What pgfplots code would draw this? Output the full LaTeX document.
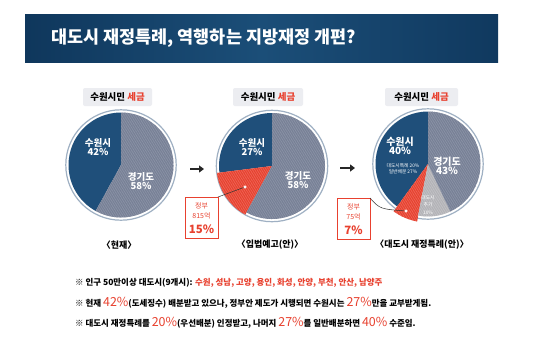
\documentclass[border=0pt]{standalone}
\usepackage{fontspec}
\setmainfont{Noto Sans CJK KR}
\usepackage{pgfplots}
\pgfplotsset{compat=1.18}
\usepackage{pgfplotstable}
\usetikzlibrary{patterns.meta,arrows.meta}

\definecolor{navy}{HTML}{1F4F7A}
\definecolor{ggbase}{HTML}{767F95}
\definecolor{ggstripe}{HTML}{9098AB}
\definecolor{redbase}{HTML}{E63F2E}
\definecolor{redstripe}{HTML}{F0705F}
\definecolor{lgbase}{HTML}{B2B2B6}
\definecolor{lgstripe}{HTML}{C6C6CA}
\definecolor{ringc}{HTML}{9FB0C3}
\definecolor{boxgray}{HTML}{ECEDF1}
\definecolor{noteRed}{HTML}{E8412F}
\definecolor{barL}{HTML}{0F375C}
\definecolor{barM}{HTML}{1B4E78}
\definecolor{barR}{HTML}{10395F}

\tikzset{
 suwon/.style={fill=navy},
 gyeonggi/.style={preaction={fill=ggbase}, pattern={Lines[angle=65,distance=1.6pt,line width=0.45pt]}, pattern color=ggstripe},
 gov/.style={preaction={fill=redbase}, pattern={Lines[angle=65,distance=1.6pt,line width=0.45pt]}, pattern color=redstripe},
 extra/.style={preaction={fill=lgbase}, pattern={Lines[angle=65,distance=1.6pt,line width=0.45pt]}, pattern color=lgstripe},
}

% pie shares (percent), slice style, radial offset (bp)
\pgfplotstableread{
share style dr
42 suwon 0
58 gyeonggi 0
}\pieA
\pgfplotstableread{
share style dr
27 suwon 0
15 gov 2.5
58 gyeonggi 0
}\pieB
\pgfplotstableread{
share style dr
40 suwon 0
7 gov 6
10 extra 0
43 gyeonggi 0
}\pieC

\newcommand\drawpie[4]{%
  \pgfplotstablegetrowsof{#1}\pgfmathtruncatemacro\nrows{\pgfplotsretval-1}%
  \def\startang{90}%
  \pgfplotsforeachungrouped \k in {0,...,\nrows}{%
    \pgfplotstablegetelem{\k}{share}\of{#1}\let\share\pgfplotsretval
    \pgfplotstablegetelem{\k}{style}\of{#1}\edef\sty{\pgfplotsretval}%
    \pgfplotstablegetelem{\k}{dr}\of{#1}\let\dr\pgfplotsretval
    \pgfmathsetmacro\endang{\startang+3.6*\share}%
    \pgfmathsetmacro\rr{#4+\dr}%
    \edef\temp{\noexpand\path[\sty] (axis cs:#2,#3) -- ++(\startang:\rr bp) arc[start angle=\startang, end angle=\endang, radius=\rr bp] -- cycle;}%
    \temp
    \let\startang\endang
  }%
}

\newcommand\ringat[3]{%
  \draw[ringc, line width=1.2bp] (axis cs:#1,#2) circle (#3bp);
}

\begin{document}
\begin{tikzpicture}
\begin{axis}[scale only axis, width=550bp, height=353bp,
  xmin=0, xmax=550, ymin=0, ymax=353, y dir=reverse,
  hide axis, clip=false]
\fill[white] (axis cs:0,0) rectangle (axis cs:550,353);
% title bar
\shade[left color=barL, right color=barR, middle color=barM] (axis cs:25,15) rectangle (axis cs:498,62);
\node[anchor=west, text=white, font=\bfseries\fontsize{17.5}{18}\selectfont] at (axis cs:48,38) {대도시 재정특례, 역행하는 지방재정 개편?};

% subtitle boxes
\fill[boxgray, rounded corners=2bp] (axis cs:83,88) rectangle (axis cs:152,106);
\fill[boxgray, rounded corners=2bp] (axis cs:233,88) rectangle (axis cs:303,106);
\fill[boxgray, rounded corners=2bp] (axis cs:385,88) rectangle (axis cs:458,106);
\node[font=\bfseries\fontsize{9.5}{10}\selectfont] at (axis cs:117.5,97) {수원시민 \textcolor{noteRed}{세금}};
\node[font=\bfseries\fontsize{9.5}{10}\selectfont] at (axis cs:268,97) {수원시민 \textcolor{noteRed}{세금}};
\node[font=\bfseries\fontsize{9.5}{10}\selectfont] at (axis cs:421.5,97) {수원시민 \textcolor{noteRed}{세금}};

% rings and pies
\ringat{121}{165}{55.2}
\ringat{272}{166}{55.7}
\ringat{428}{164}{55.2}
\drawpie{\pieA}{121}{165}{52.5}
\drawpie{\pieB}{272}{166}{53}
\drawpie{\pieC}{428}{164}{52.5}

% pie labels
\node[text=white, font=\bfseries\fontsize{9.5}{10}\selectfont, align=center] at (axis cs:98,147) {수원시\\[-1bp]42\%};
\node[text=white, font=\bfseries\fontsize{9.5}{10}\selectfont, align=center] at (axis cs:141,181) {경기도\\[-1bp]58\%};
\node[text=white, font=\bfseries\fontsize{9.5}{10}\selectfont, align=center] at (axis cs:252,147) {수원시\\[-1bp]27\%};
\node[text=white, font=\bfseries\fontsize{9.5}{10}\selectfont, align=center] at (axis cs:298,180) {경기도\\[-1bp]58\%};
\node[text=white, font=\bfseries\fontsize{10}{10.5}\selectfont, align=center] at (axis cs:400,146) {수원시\\[-1bp]40\%};
\node[text=white, font=\fontsize{4.8}{6.5}\selectfont, align=center] at (axis cs:403,168.5) {대도시특례 20\%\\일반배분 27\%};
\node[text=white, font=\bfseries\fontsize{10}{10.5}\selectfont, align=center] at (axis cs:447,166) {경기도\\[-1bp]43\%};
\node[text=white, font=\fontsize{4.8}{7.5}\selectfont, align=center] at (axis cs:428,205) {대도시\\추가\\10\%};

% arrows
\draw[-{Triangle[length=5bp,width=7bp]}, line width=2.2bp, black!85] (axis cs:190,169) -- (axis cs:204,169);
\draw[-{Triangle[length=5bp,width=7bp]}, line width=2.2bp, black!85] (axis cs:340,168) -- (axis cs:355,168);

% government boxes
\draw[noteRed, line width=0.8bp, fill=white] (axis cs:185,197) rectangle (axis cs:218,238);
\node[text=noteRed, font=\fontsize{7}{8}\selectfont] at (axis cs:201.5,206) {정부};
\node[text=noteRed, font=\fontsize{7}{8}\selectfont] at (axis cs:201.5,216) {815억};
\node[text=noteRed, font=\bfseries\fontsize{11.5}{12}\selectfont] at (axis cs:201.5,229) {15\%};
\draw[noteRed, line width=0.8bp, fill=white] (axis cs:337,198) rectangle (axis cs:370,239);
\node[text=noteRed, font=\fontsize{7}{8}\selectfont] at (axis cs:353.5,207) {정부};
\node[text=noteRed, font=\fontsize{7}{8}\selectfont] at (axis cs:353.5,217) {75억};
\node[text=noteRed, font=\bfseries\fontsize{11.5}{12}\selectfont] at (axis cs:353.5,230) {7\%};
\draw[black!80, line width=0.5bp] (axis cs:218,197) -- (axis cs:245,187);
\draw[black!80, line width=0.5bp] (axis cs:370,198) .. controls (axis cs:380,209) .. (axis cs:406,211);
\addplot[only marks, mark=*, mark size=1.3bp, mark options={fill=white, draw=white}] coordinates {(245,187) (406,211)};

% captions
\node[font=\bfseries\fontsize{9}{10}\selectfont] at (axis cs:119,245) {〈현재〉};
\node[font=\bfseries\fontsize{9}{10}\selectfont] at (axis cs:270,245) {〈입법예고(안)〉};
\node[font=\bfseries\fontsize{9}{10}\selectfont] at (axis cs:422,245) {〈대도시 재정특례(안)〉};

% notes
\node[anchor=base west, inner sep=0pt, font=\bfseries\fontsize{8.5}{10}\selectfont] at (axis cs:75,285) {※ 인구 50만이상 대도시(9개시): \textcolor{noteRed}{수원, 성남, 고양, 용인, 화성, 안양, 부천, 안산, 남양주}};
\node[anchor=base west, inner sep=0pt, font=\bfseries\fontsize{8.5}{10}\selectfont] at (axis cs:75,306) {※ 현재 \textcolor{noteRed}{\mdseries\fontsize{12.5}{11}\selectfont 42\%}(도세징수) 배분받고 있으나, 정부안 제도가 시행되면 수원시는 \textcolor{noteRed}{\mdseries\fontsize{12.5}{11}\selectfont 27\%}만을 교부받게됨.};
\node[anchor=base west, inner sep=0pt, font=\bfseries\fontsize{8.5}{10}\selectfont] at (axis cs:75,326) {※ 대도시 재정특례를 \textcolor{noteRed}{\mdseries\fontsize{12.5}{11}\selectfont 20\%}(우선배분) 인정받고, 나머지 \textcolor{noteRed}{\mdseries\fontsize{12.5}{11}\selectfont 27\%}를 일반배분하면 \textcolor{noteRed}{\mdseries\fontsize{12.5}{11}\selectfont 40\%} 수준임.};
\end{axis}
\end{tikzpicture}
\end{document}
